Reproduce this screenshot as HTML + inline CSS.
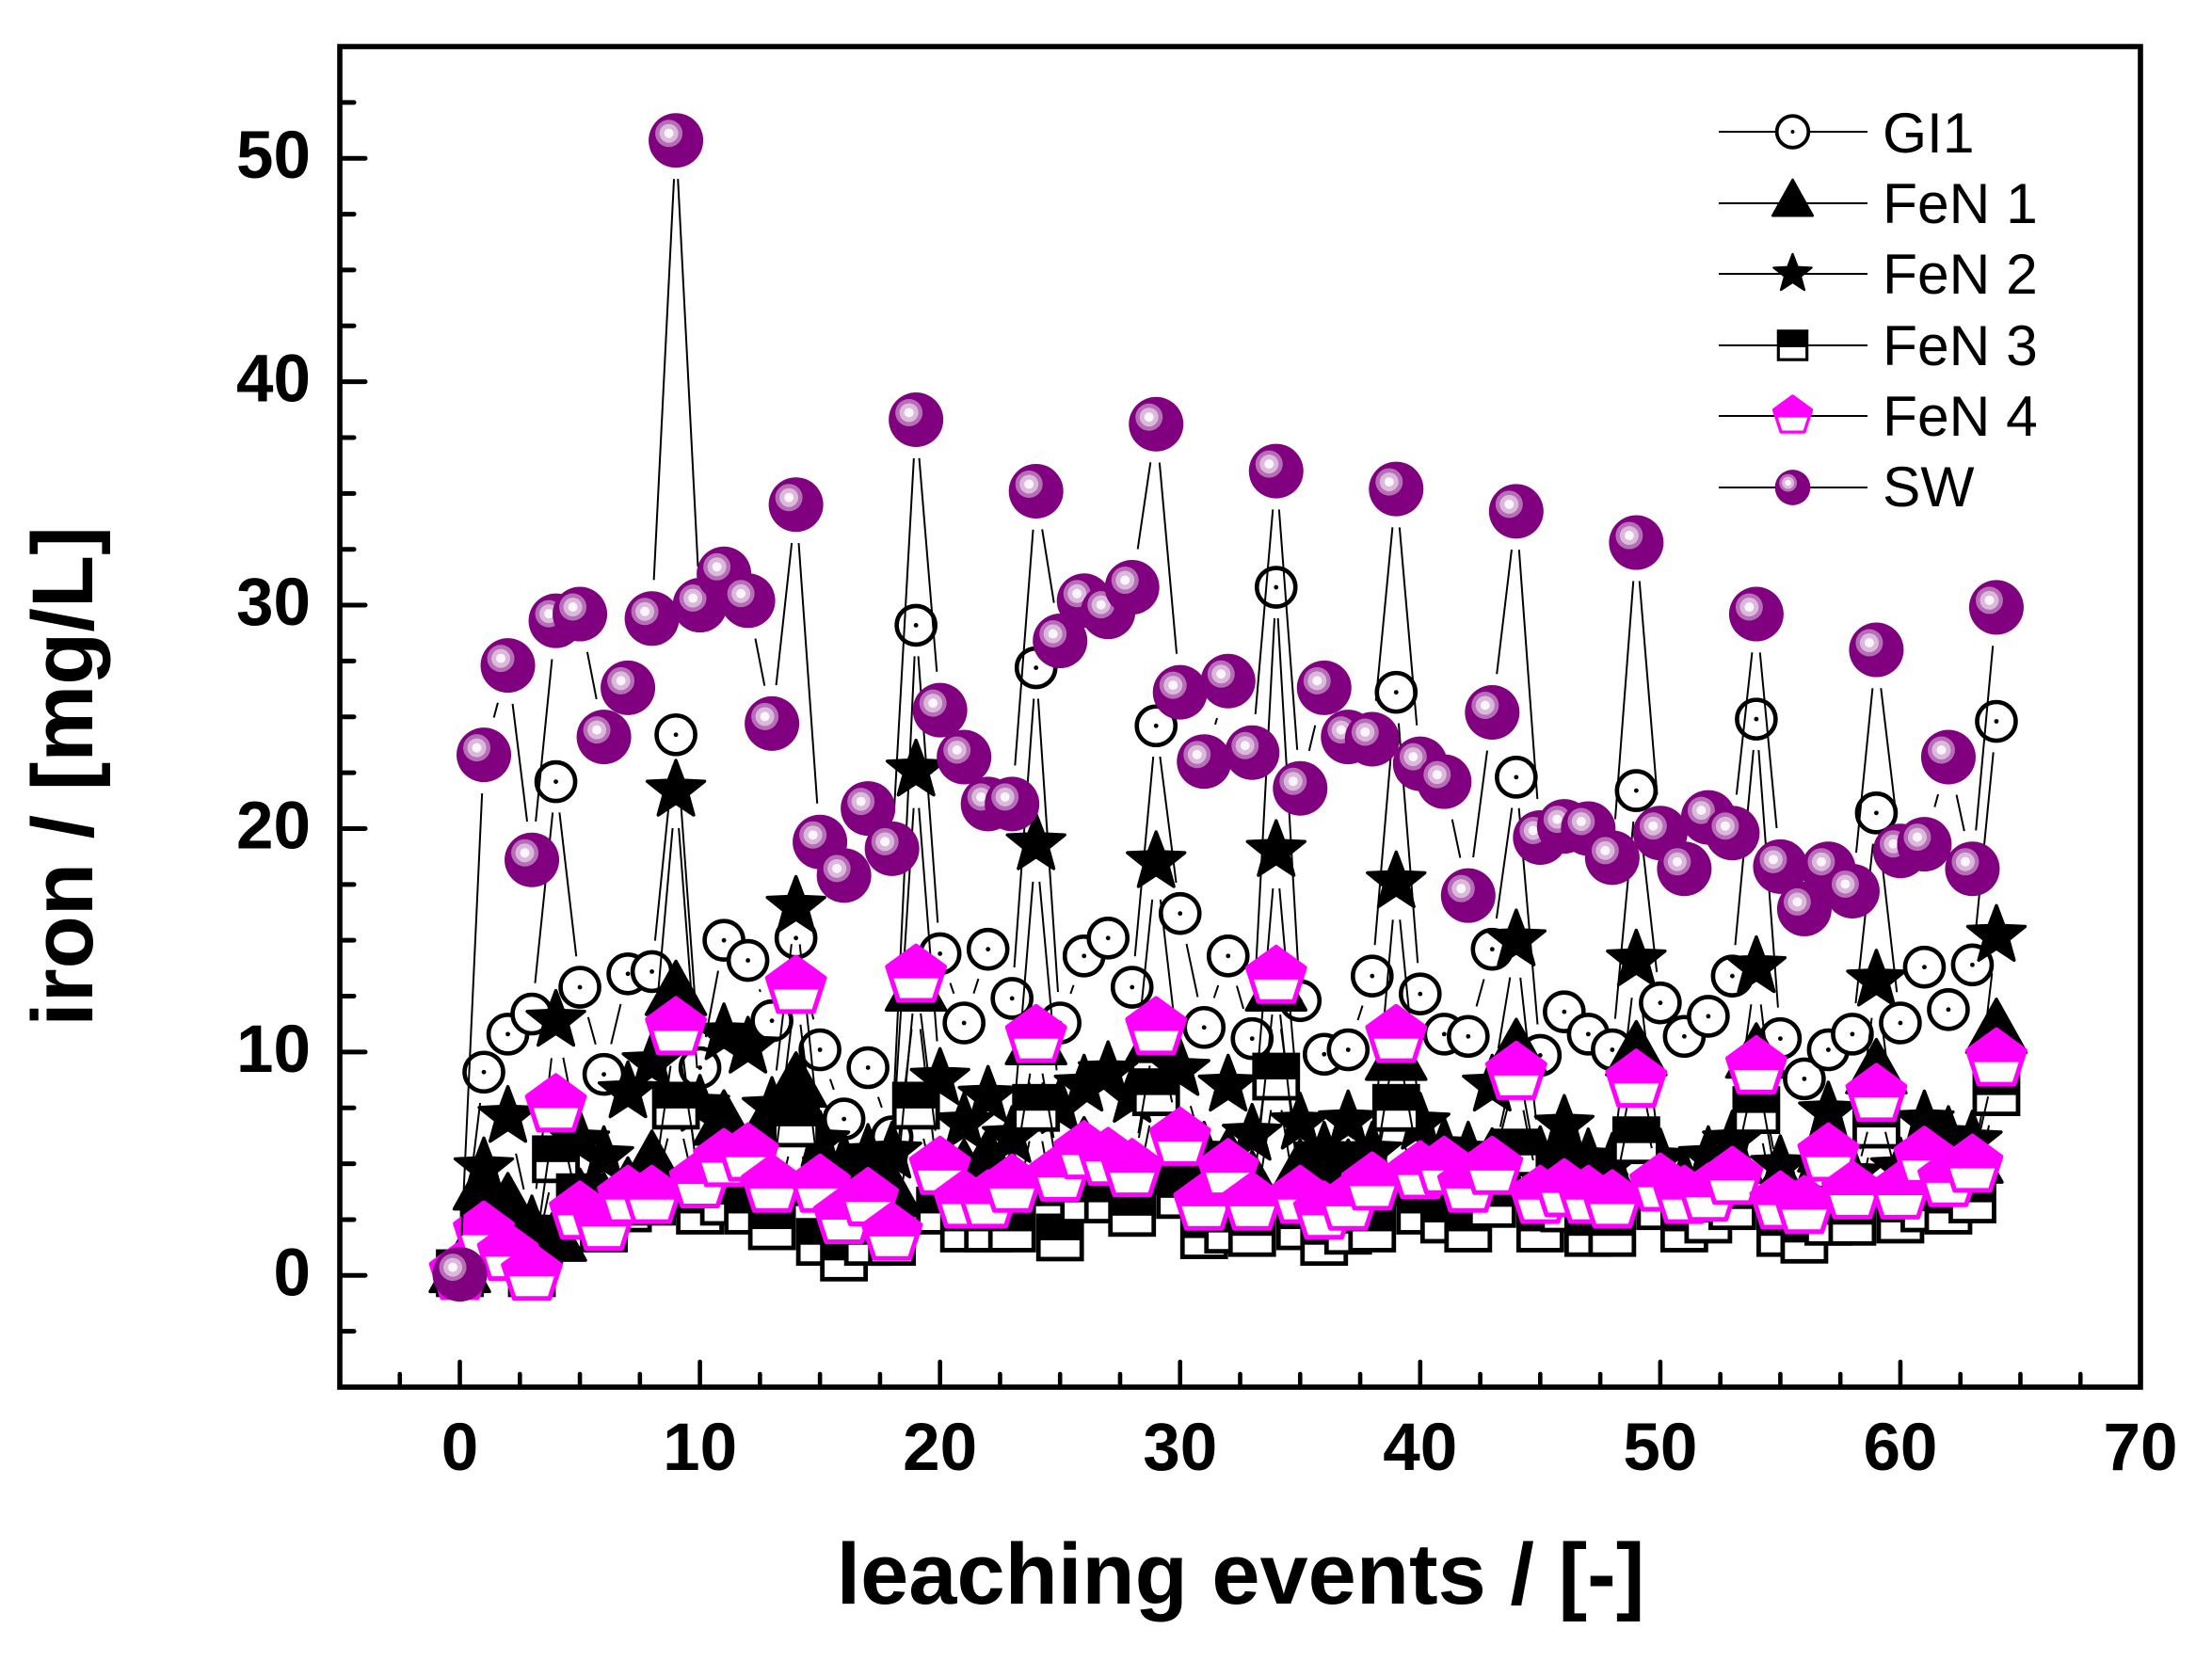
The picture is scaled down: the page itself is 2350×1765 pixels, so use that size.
<!DOCTYPE html>
<html lang="en">
<head>
<meta charset="utf-8">
<title>Iron leaching chart</title>
<style>
html,body{margin:0;padding:0;background:#fff;}
svg{display:block;}
text{font-family:"Liberation Sans",Arial,sans-serif;fill:#000;}
.tick-label{font-weight:bold;font-size:71px;}
.axis-title{font-weight:bold;font-size:92px;}
.legend-text{font-size:60.5px;}
</style>
</head>
<body>
<svg id="chart" xmlns="http://www.w3.org/2000/svg" width="2350" height="1765" viewBox="0 0 2350 1765">
  <rect x="0" y="0" width="2350" height="1765" fill="#fff"/>
  <g id="series-layer"></g>
  <g id="axes-layer"></g>
  <text class="axis-title" x="1318" y="1704" text-anchor="middle">leaching events / [-]</text>
  <text class="axis-title" transform="translate(98 825) rotate(-90)" text-anchor="middle">iron / [mg/L]</text>
  <g id="legend">
    <g><line x1="1826" y1="140" x2="1984" y2="140" stroke="#000" stroke-width="2"/><text class="legend-text" x="2000" y="162">GI1</text></g>
    <g><line x1="1826" y1="216" x2="1984" y2="216" stroke="#000" stroke-width="2"/><text class="legend-text" x="2000" y="237">FeN 1</text></g>
    <g><line x1="1826" y1="291" x2="1984" y2="291" stroke="#000" stroke-width="2"/><text class="legend-text" x="2000" y="312">FeN 2</text></g>
    <g><line x1="1826" y1="367" x2="1984" y2="367" stroke="#000" stroke-width="2"/><text class="legend-text" x="2000" y="388">FeN 3</text></g>
    <g><line x1="1826" y1="442" x2="1984" y2="442" stroke="#000" stroke-width="2"/><text class="legend-text" x="2000" y="463">FeN 4</text></g>
    <g><line x1="1826" y1="518" x2="1984" y2="518" stroke="#000" stroke-width="2"/><text class="legend-text" x="2000" y="538">SW</text></g>
  </g>
</svg>
<script>
// Chart data
const leachingEvents = Array.from({length: 65}, (_, i) => i);
const gi1 = [0.2,9.1,10.8,11.7,22.1,12.9,9.0,13.5,13.6,24.2,9.3,15.0,14.1,11.4,15.1,10.1,7.0,9.3,6.2,29.1,14.4,11.3,14.6,12.4,27.2,11.3,14.3,15.1,12.9,24.6,16.2,11.1,14.3,10.6,30.8,12.3,9.9,10.1,13.4,26.1,12.6,10.8,10.7,14.6,22.3,9.85,11.8,10.8,10.1,21.7,12.2,10.7,11.6,13.4,24.9,10.6,8.8,10.1,10.8,20.7,11.3,13.8,11.9,13.9,24.8];
const fen1 = [0.1,3.8,3.0,1.4,1.5,3.2,3.0,3.7,4.9,12.5,3.5,6.7,5.0,7.0,8.4,4.0,3.0,3.0,3.5,12.7,3.5,4.5,5.0,4.0,10.3,4.0,5.5,5.0,4.5,10.4,5.0,3.5,5.0,4.0,12.7,4.5,3.5,4.5,4.0,9.6,4.5,4.0,4.0,5.0,9.9,4.0,5.0,3.5,4.0,9.8,4.5,3.5,4.0,5.0,9.7,4.0,3.0,5.5,4.0,9.0,4.0,5.5,4.5,5.0,10.8];
const fen2 = [0.1,4.8,7.1,2.2,11.4,6.0,5.3,8.2,9.5,21.7,7.6,10.8,10.2,7.5,16.5,6.0,5.0,5.4,5.5,22.6,8.8,6.8,8.0,6.2,19.3,7.5,8.5,9.1,8.0,18.5,9.2,5.5,8.5,6.3,19.0,6.8,5.5,6.9,5.5,17.6,6.8,5.7,5.5,8.5,15.0,5.3,6.7,5.2,5.0,14.1,5.2,4.3,5.3,6.0,13.8,4.9,3.5,7.3,4.5,13.2,4.8,6.9,6.2,6.0,15.2];
const fen3 = [0.1,2.5,1.5,0.1,5.2,3.5,2.1,3.0,3.3,7.6,2.9,3.3,2.9,2.2,6.8,1.5,0.8,1.5,1.5,7.6,2.9,2.1,2.1,2.1,7.5,1.7,3.4,3.4,2.8,8.2,3.6,1.8,2.05,1.9,8.9,2.2,1.5,2.0,2.1,7.5,2.9,2.5,2.1,3.2,5.5,2.1,3.0,1.9,1.9,6.05,3.1,2.1,2.5,3.1,7.4,1.9,1.6,2.4,2.4,6.75,2.5,3.0,2.9,3.4,8.2];
const fen4 = [0.1,1.9,0.95,0.06,7.6,2.8,2.3,3.5,3.5,11.05,4.2,5.15,5.4,4.0,12.9,4.0,2.6,3.4,1.85,13.4,4.8,3.3,3.3,4.0,10.7,4.5,5.5,5.2,4.7,11.05,6.1,3.2,4.7,3.2,13.35,3.5,2.8,3.2,4.1,10.7,4.6,4.8,4.0,4.8,9.05,3.5,3.8,3.5,3.3,8.7,4.05,3.5,3.6,4.35,9.3,3.25,3.05,5.4,3.7,8.06,3.7,5.25,4.25,4.9,9.65];
const sw = [0.05,23.3,27.3,18.6,29.3,29.6,24.1,26.3,29.4,50.8,30.0,31.4,30.2,24.7,34.5,19.4,17.9,20.9,19.1,38.3,25.3,23.2,21.1,21.1,35.1,28.4,30.2,29.7,30.8,38.1,26.1,23.0,26.6,23.4,36.0,21.8,26.3,24.1,24.0,35.2,22.9,22.1,17.0,25.2,34.2,19.6,20.1,20.0,18.7,32.8,19.8,18.2,20.5,19.8,29.6,18.3,16.4,18.2,17.2,28.0,19.0,19.3,23.2,18.2,29.9];
const xTickLabels = ["0","10","20","30","40","50","60","70"];
const yTickLabels = ["0","10","20","30","40","50"];
const xTickValues = [-2.5,0,2.5,5,7.5,10,12.5,15,17.5,20,22.5,25,27.5,30,32.5,35,37.5,40,42.5,45,47.5,50,52.5,55,57.5,60,62.5,65,67.5];
const yTickValues = [-2.5,0,2.5,5,7.5,10,12.5,15,17.5,20,22.5,25,27.5,30,32.5,35,37.5,40,42.5,45,47.5,50,52.5];

// Axis functions
const xDomain = [-5, 70], yDomain = [-5, 55];
const plotLeft = 361, plotRight = 2274, plotTop = 49.5, plotBottom = 1474;
function xPos(v){ return plotLeft + (v - xDomain[0]) / (xDomain[1] - xDomain[0]) * (plotRight - plotLeft); }
function yPos(v){ return plotBottom - (v - yDomain[0]) / (yDomain[1] - yDomain[0]) * (plotBottom - plotTop); }

const NS = 'http://www.w3.org/2000/svg';
function mk(tag, attrs, parent){
  const el = document.createElementNS(NS, tag);
  for (const k in attrs) el.setAttribute(k, attrs[k]);
  if (parent) parent.appendChild(el);
  return el;
}
function starPoints(R, r){
  const p = [];
  for (let i = 0; i < 10; i++){
    const a = -Math.PI / 2 + i * Math.PI / 5, q = i % 2 ? r : R;
    p.push((q * Math.cos(a)).toFixed(2) + ',' + (q * Math.sin(a)).toFixed(2));
  }
  return p.join(' ');
}
const markerDrawers = {
  circle(g){
    mk('circle', {cx:0, cy:0, r:20.5, fill:'#fff', stroke:'#000', 'stroke-width':4.6}, g);
    mk('circle', {cx:0, cy:0, r:2.4, fill:'#000'}, g);
  },
  triangle(g){
    mk('polygon', {points:'0,-37 -31.5,19.5 31.5,19.5', fill:'#000', stroke:'#000', 'stroke-width':3.5, 'stroke-linejoin':'round'}, g);
  },
  star(g){
    mk('polygon', {points:starPoints(32, 13.5), fill:'#000', stroke:'#000', 'stroke-width':3.5, 'stroke-linejoin':'round'}, g);
  },
  square(g){
    mk('rect', {x:-23, y:-23, width:46, height:46, fill:'#fff', stroke:'#000', 'stroke-width':4.8}, g);
    mk('rect', {x:-23, y:-23, width:46, height:26, fill:'#000'}, g);
  },
  pentagon(g){
    mk('polygon', {points:'0,-32 30.4,-9.9 18.8,25.9 -18.8,25.9 -30.4,-9.9', fill:'#fff', stroke:'#ff00ff', 'stroke-width':5, 'stroke-linejoin':'round'}, g);
    mk('polygon', {points:'0,-32 30.4,-9.9 26.5,2 -26.5,2 -30.4,-9.9', fill:'#ff00ff', stroke:'#ff00ff', 'stroke-width':1}, g);
  },
  sphere(g){
    mk('circle', {cx:0, cy:0, r:29, fill:'#800080'}, g);
    mk('circle', {cx:-7.5, cy:-7.5, r:14.5, fill:'#b56fb5'}, g);
    mk('circle', {cx:-7.5, cy:-7.5, r:10, fill:'#dcb8dc'}, g);
    mk('circle', {cx:-7.5, cy:-7.5, r:5, fill:'#fbf6fb'}, g);
  }
};
function drawMarker(kind, x, y, scale, parent){
  const g = mk('g', {transform:'translate(' + x.toFixed(2) + ' ' + y.toFixed(2) + ') scale(' + scale + ')'}, parent);
  markerDrawers[kind](g);
  return g;
}

// Series (drawn in plotting order, later over earlier)
const seriesList = [
  {key:'gi1', values:gi1, kind:'circle', gap:33},
  {key:'fen1', values:fen1, kind:'triangle', gap:40},
  {key:'fen2', values:fen2, kind:'star', gap:40},
  {key:'fen3', values:fen3, kind:'square', gap:36},
  {key:'fen4', values:fen4, kind:'pentagon', gap:40},
  {key:'sw', values:sw, kind:'sphere', gap:41}
];
const seriesLayer = document.getElementById('series-layer');
seriesList.forEach(function(s){
  const group = mk('g', {}, seriesLayer);
  
  
  for (let i = 0; i + 1 < s.values.length; i++){
    const x1 = xPos(leachingEvents[i]), y1 = yPos(s.values[i]);
    const x2 = xPos(leachingEvents[i + 1]), y2 = yPos(s.values[i + 1]);
    const L = Math.hypot(x2 - x1, y2 - y1);
    if (L <= 2 * s.gap) continue;
    const ux = (x2 - x1) / L, uy = (y2 - y1) / L;
    const seg = mk('line', {x1:(x1 + ux * s.gap).toFixed(2), y1:(y1 + uy * s.gap).toFixed(2), x2:(x2 - ux * s.gap).toFixed(2), y2:(y2 - uy * s.gap).toFixed(2), stroke:'#000', 'stroke-width':2}, group);
    
    
  }
  s.values.forEach(function(v, i){
    const m = drawMarker(s.kind, xPos(leachingEvents[i]), yPos(v), 1, group);
    
    
  });
});

// Axes
const axesLayer = document.getElementById('axes-layer');
const frame = mk('rect', {x:plotLeft, y:plotTop, width:plotRight - plotLeft, height:plotBottom - plotTop, fill:'none', stroke:'#000', 'stroke-width':5.6}, axesLayer);


xTickValues.forEach(function(v){
  const major = v % 10 === 0;
  const t = mk('line', {x1:xPos(v), x2:xPos(v), y1:plotBottom, y2:plotBottom - (major ? 27 : 14), stroke:'#000', 'stroke-width':4.6, 'stroke-linecap':'round'}, axesLayer);
  
  
});
yTickValues.forEach(function(v){
  const major = v % 10 === 0;
  const t = mk('line', {x1:plotLeft, x2:plotLeft + (major ? 27 : 15), y1:yPos(v), y2:yPos(v), stroke:'#000', 'stroke-width':5, 'stroke-linecap':'round'}, axesLayer);
  
  
});
xTickLabels.forEach(function(label){
  const t = mk('text', {x:xPos(Number(label)), y:1562, 'text-anchor':'middle', 'class':'tick-label'}, axesLayer);
  t.textContent = label;
  
  
});
yTickLabels.forEach(function(label){
  const t = mk('text', {x:330, y:yPos(Number(label)) + 21, 'text-anchor':'end', 'class':'tick-label'}, axesLayer);
  t.textContent = label;
  
  
});

// Legend markers
const legendRows = document.getElementById('legend').children;
const legendKinds = ['circle','triangle','star','square','pentagon','sphere'];
const legendScales = [0.82,0.68,0.66,0.66,0.66,0.65];
legendKinds.forEach(function(kind, i){
  const ln = legendRows[i].querySelector('line');
  const m = drawMarker(kind, 1904.5, Number(ln.getAttribute('y1')), legendScales[i], legendRows[i]);
  
  
});
</script>
</body>
</html>
